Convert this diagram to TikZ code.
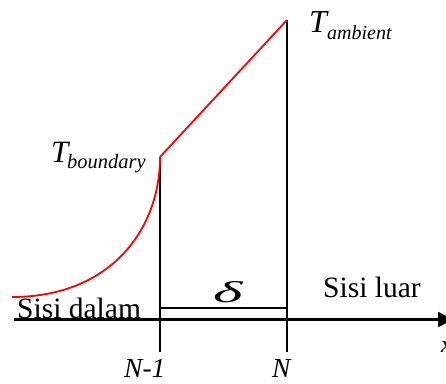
\documentclass[tikz,border=0pt]{standalone}
\usepackage{fontspec}
\setmainfont{Liberation Serif}
\usetikzlibrary{arrows.meta}
\begin{document}
\begin{tikzpicture}[x=1pt,y=-1pt,
  lbl/.style={inner sep=0pt,anchor=base west,font=\fontsize{29.5}{30}\selectfont},
  sub/.style={inner sep=0pt,anchor=base west,font=\fontsize{20.5}{22}\selectfont\itshape},
  blk/.style={black,line width=2pt},
  hot/.style={red,line width=1.8pt}]
\useasboundingbox (0,0) rectangle (446,383);
\clip (0,0) rectangle (446,383);
% key points
\coordinate (axs) at (14,319.5);
\coordinate (axe) at (453,319.5);
\coordinate (b) at (160,157);
\coordinate (bb) at (160,352);
\coordinate (a) at (287,20);
\coordinate (ab) at (287,352);
\coordinate (d1) at (160,307.5);
\coordinate (d2) at (287,307.5);
\coordinate (c0) at (12,297);
% axis
\draw[black,line width=2.4pt,-{Triangle[length=15pt,width=15pt]}] (axs) -- (axe);
% verticals
\draw[blk] (b) -- (bb);
\draw[blk] (a) -- (ab);
\draw[blk] (d1) -- (d2);
% temperature profile
\draw[hot] (c0) .. controls (110,297) and (160,230) .. (b);
\draw[hot] (b) -- (a);
% labels
\node[lbl,font=\fontsize{31}{30}\selectfont\itshape] (Tb) at (51,162) {T};
\node[sub] (Tbs) at (67,168) {boundary};
\node[lbl,font=\fontsize{32}{30}\selectfont\itshape] (Ta) at (309,32) {T};
\node[sub,font=\fontsize{20}{22}\selectfont\itshape] (Tas) at (327,39) {ambient};
\node[lbl] (sd) at (17,318) {Sisi dalam};
\node[lbl] (sl) at (323,297) {Sisi luar};
\node[lbl,font=\fontsize{30}{30}\selectfont\itshape] (del) at (213,302) {\scalebox{2.1}[1]{δ}};
\node[lbl,font=\fontsize{27.5}{30}\selectfont\itshape] (n1) at (124,377) {N-1};
\node[lbl,font=\fontsize{27.5}{30}\selectfont\itshape] (n) at (272,377) {N};
\node[lbl,font=\fontsize{24}{30}\selectfont\itshape] (xx) at (441,352) {x};
\end{tikzpicture}
\end{document}
